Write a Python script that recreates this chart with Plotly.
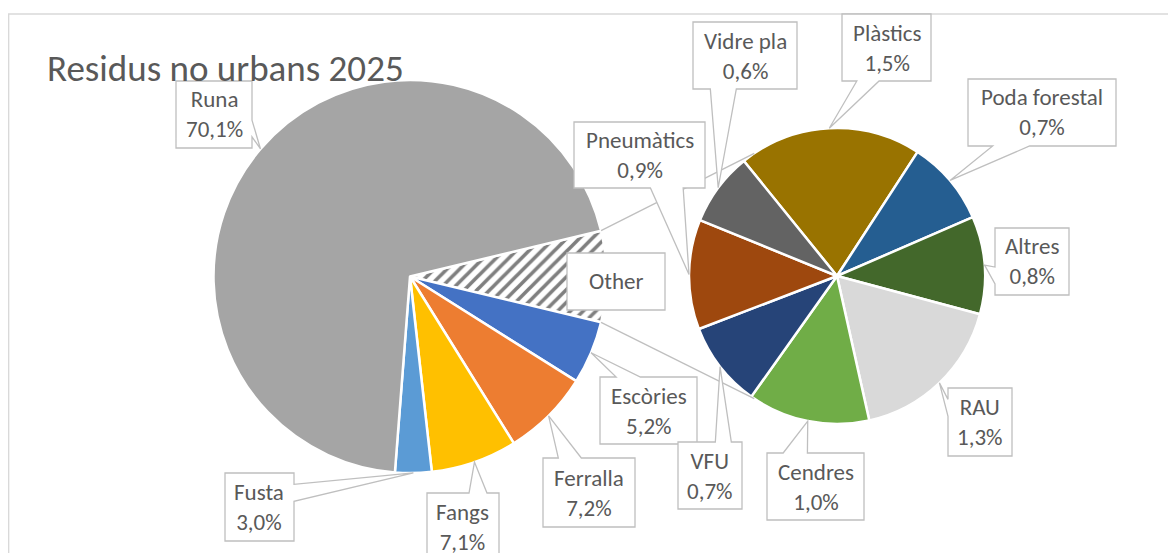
import math

import plotly.graph_objects as go

PAGE_W, PAGE_H = 1176, 553
PAD = 8  # page body margin around the figure
W, H = PAGE_W - PAD, PAGE_H - PAD
FONT = "Calibri, Carlito, Lato, sans-serif"
TEXT = "#595959"
EDGE = "#BFBFBF"

# main pie, clockwise from the "Other" slice
main_labels = ["Escòries", "Ferralla", "Fangs", "Fusta", "Runa"]
main_values = [5.2, 7.2, 7.1, 3.0, 70.1]
main_colors = ["#4472C4", "#ED7D31", "#FFC000", "#5B9BD5", "#A5A5A5"]

# second pie (breakdown of "Other"), clockwise from Plàstics
other_labels = ["Plàstics", "Poda forestal", "Altres", "RAU", "Cendres", "VFU", "Pneumàtics", "Vidre pla"]
other_values = [1.5, 0.7, 0.8, 1.3, 1.0, 0.7, 0.9, 0.6]
other_colors = ["#997300", "#255E91", "#43682B", "#D9D9D9", "#70AD47", "#264478", "#9E480E", "#636363"]

# pie geometry in page pixels (center x, center y, radius)
MAIN_PIE = (410, 276.5, 196.5)
SUB_PIE = (837, 276, 148)
SUB_ROTATION = 321
CONNECT_ANGLE = 56

# callout boxes in page pixels: left, top, right, bottom
BOXES = {
    "Runa": (176, 81, 252, 148),
    "Fusta": (225, 473, 294, 541),
    "Fangs": (427, 493, 499, 560),
    "Ferralla": (543, 458, 635, 527),
    "Escòries": (600, 377, 697, 444),
    "Other": (567, 253, 665, 310),
    "Pneumàtics": (574, 122, 705, 188),
    "Vidre pla": (693, 22, 797, 89),
    "Plàstics": (842, 14, 931, 81),
    "Poda forestal": (968, 79, 1116, 146),
    "Altres": (995, 228, 1069, 295),
    "RAU": (948, 388, 1012, 456),
    "Cendres": (767, 453, 864, 520),
    "VFU": (678, 442, 742, 509),
}


def px(x, y):
    return (x - PAD) / W, 1 - (y - PAD) / H


def domain(cx, cy, r):
    x0, y1 = px(cx - r, cy - r)
    x1, y0 = px(cx + r, cy + r)
    return dict(x=[x0, x1], y=[y0, y1])


def edge_point(pie, ang, scale=1.0):
    cx, cy, r = pie
    a = math.radians(ang)
    return cx + r * scale * math.sin(a), cy - r * scale * math.cos(a)


def mid_angles(values, rotation):
    tot = sum(values)
    out, cur = [], rotation
    for v in values:
        span = 360 * v / tot
        out.append(cur + span / 2)
        cur += span
    return out


def fmt(v):
    return f"{v:.1f}".replace(".", ",") + "%"


def callout(box, tip):
    l, t, r, b = box
    w, h = r - l, b - t
    cx, cy = (l + r) / 2, (t + b) / 2
    tx, ty = tip
    if l <= tx <= r and t <= ty <= b:
        pts = [(l, t), (r, t), (r, b), (l, b)]
    elif abs((tx - cx) / w) <= abs((ty - cy) / h):
        xa, xb = (l + w * 2 / 12, l + w * 5 / 12) if tx < cx else (l + w * 7 / 12, l + w * 10 / 12)
        if ty < cy:
            pts = [(l, t), (xa, t), (tx, ty), (xb, t), (r, t), (r, b), (l, b)]
        else:
            pts = [(l, t), (r, t), (r, b), (xb, b), (tx, ty), (xa, b), (l, b)]
    else:
        ya, yb = (t + h * 2 / 12, t + h * 5 / 12) if ty < cy else (t + h * 7 / 12, t + h * 10 / 12)
        if tx > cx:
            pts = [(l, t), (r, t), (r, ya), (tx, ty), (r, yb), (r, b), (l, b)]
        else:
            pts = [(l, t), (r, t), (r, b), (l, b), (l, yb), (tx, ty), (l, ya)]
    path = "M " + " L ".join("%.5f,%.5f" % px(x, y) for x, y in pts) + " Z"
    return dict(type="path", path=path, xref="paper", yref="paper",
                fillcolor="white", line=dict(color=EDGE, width=1.3), layer="above")


other_total = sum(other_values)
main_all_labels = ["Other"] + main_labels
main_all_values = [other_total] + main_values
main_total = sum(main_all_values)
other_deg = 360 * other_total / main_total
main_rotation = 90 - other_deg / 2

fig = go.Figure()
fig.add_trace(go.Pie(
    labels=main_all_labels, values=main_all_values, sort=False, direction="clockwise",
    rotation=main_rotation, textinfo="none", hoverinfo="label+percent",
    domain=domain(*MAIN_PIE),
    marker=dict(colors=["#7F7F7F"] + main_colors, line=dict(color="white", width=2.5),
                pattern=dict(shape=["/"] + [""] * len(main_labels), bgcolor="white",
                             size=9, solidity=0.4)),
))
fig.add_trace(go.Pie(
    labels=other_labels, values=other_values, sort=False, direction="clockwise",
    rotation=SUB_ROTATION, textinfo="none", hoverinfo="label+percent",
    domain=domain(*SUB_PIE),
    marker=dict(colors=other_colors, line=dict(color="white", width=2.5)),
))

fx0, fy0 = px(8, 14)
shapes = [
    # chart frame
    dict(type="line", xref="paper", yref="paper", x0=fx0, x1=1, y0=fy0, y1=fy0,
         line=dict(color="#D9D9D9", width=1.5)),
    dict(type="line", xref="paper", yref="paper", x0=fx0 + 0.0005, x1=fx0 + 0.0005, y0=0, y1=fy0,
         line=dict(color="#D9D9D9", width=1.5)),
]

# connector lines between the "Other" slice and the second pie
for a_main, a_sub in [(main_rotation, 270 + CONNECT_ANGLE), (main_rotation + other_deg, 270 - CONNECT_ANGLE)]:
    x0, y0 = px(*edge_point(MAIN_PIE, a_main))
    x1, y1 = px(*edge_point(SUB_PIE, a_sub))
    shapes.append(dict(type="line", xref="paper", yref="paper", x0=x0, y0=y0, x1=x1, y1=y1,
                       line=dict(color=EDGE, width=1.3), layer="above"))

tx, ty = px(45, 69)
annotations = [dict(text="Residus no urbans 2025", xref="paper", yref="paper",
                    x=tx, y=ty, xanchor="left", yanchor="middle", showarrow=False,
                    font=dict(family=FONT, size=37, color=TEXT))]

tips = {}
for lab, ang in zip(main_all_labels, mid_angles(main_all_values, main_rotation)):
    tips[lab] = edge_point(MAIN_PIE, ang)
for lab, ang in zip(other_labels, mid_angles(other_values, SUB_ROTATION)):
    tips[lab] = edge_point(SUB_PIE, ang)

values_by_label = dict(zip(main_labels + other_labels, main_values + other_values))
for lab, box in BOXES.items():
    shapes.append(callout(box, tips[lab]))
    text = lab if lab == "Other" else f"{lab}<br>{fmt(values_by_label[lab])}"
    x, y = px((box[0] + box[2]) / 2, (box[1] + box[3]) / 2)
    annotations.append(dict(text=text, xref="paper", yref="paper", x=x, y=y,
                            xanchor="center", yanchor="middle", showarrow=False,
                            font=dict(family=FONT, size=23, color=TEXT)))

fig.update_layout(
    width=W, height=H, margin=dict(l=0, r=0, t=0, b=0),
    paper_bgcolor="white", plot_bgcolor="white", showlegend=False,
    shapes=shapes, annotations=annotations,
)
fig.write_html("out.html")
